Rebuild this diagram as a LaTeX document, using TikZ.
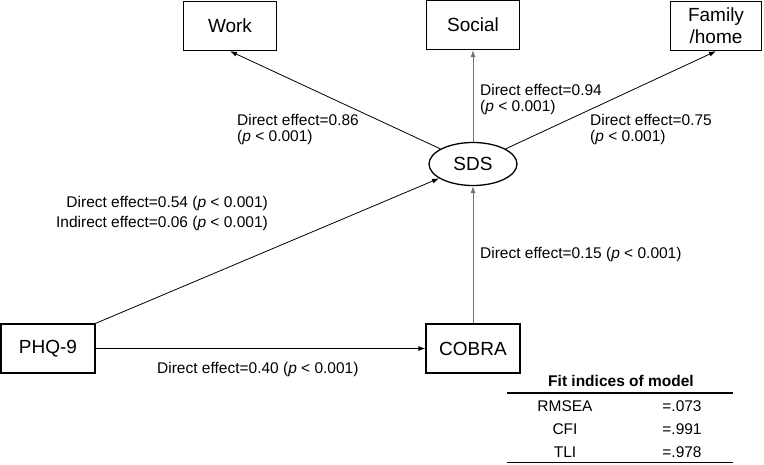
\documentclass[tikz,border=0pt]{standalone}
\usepackage{fontspec}
\setmainfont{Liberation Sans}
\usetikzlibrary{shapes.geometric, arrows.meta, positioning, calc}

\tikzset{
  box/.style={rectangle, draw, line width=1.3pt, minimum width=93pt, minimum height=49pt, font=\fontsize{19}{21}\selectfont, align=center},
  lbl/.style={inner sep=0pt, font=\fontsize{15.5}{16}\selectfont},
  edge/.style={-{Latex[length=7pt,width=5pt]}, line width=0.8pt},
  greyedge/.style={edge, draw=black!55}
}

\begin{document}
\begin{tikzpicture}[x=1pt, y=-1pt]
    \useasboundingbox (0,0) rectangle (764,464);

    % Outcome boxes
    \node[box] (work) at (230,26) {Work};
    \node[box] (social) at (473,25) {Social};
    \node[box, minimum width=91pt, font=\fontsize{19}{22}\selectfont] (family) at (716,26) {Family\\/home};

    % SDS ellipse
    \node[ellipse, draw, line width=1.3pt, minimum width=88pt, minimum height=43pt, font=\fontsize{19}{21}\selectfont] (sds) at (473,164) {SDS};

    % Predictors
    \node[box, minimum width=94pt] (phq) at (48,348.5) {PHQ-9};
    \node[box, minimum width=94pt] (cobra) at (473,348.5) {COBRA};

    % Connections
    \draw[edge] (sds) -- (work.south);
    \draw[greyedge] (sds) -- (social.south);
    \draw[edge] (sds) -- (family.south);
    \draw[edge] (phq.north east) -- (sds);
    \draw[greyedge] (cobra) -- (sds);
    \draw[edge] (phq) -- (cobra);

    % Path labels
    \node[lbl, anchor=west, align=left] (l86) at (237,129) {Direct effect=0.86\\(\textit{p} < 0.001)};
    \node[lbl, anchor=west, align=left] (l94) at (480,99) {Direct effect=0.94\\(\textit{p} < 0.001)};
    \node[lbl, anchor=west, align=left] (l75) at (590,129) {Direct effect=0.75\\(\textit{p} < 0.001)};
    \node[lbl, anchor=east, align=right, font=\fontsize{15.5}{20}\selectfont] (l54) at (268,213) {Direct effect=0.54 (\textit{p} < 0.001)\\Indirect effect=0.06 (\textit{p} < 0.001)};
    \node[lbl, anchor=west] (l15) at (480,254) {Direct effect=0.15 (\textit{p} < 0.001)};
    \node[lbl, anchor=west] (l40) at (157,369) {Direct effect=0.40 (\textit{p} < 0.001)};

    % Fit indices table
    \node[lbl, font=\fontsize{15.5}{16}\selectfont\bfseries] (fit) at (621,381) {Fit indices of model};
    \draw[line width=1.8pt] (507,393) -- (733,393);
    \node[lbl] (rmsea) at (565,406) {RMSEA};
    \node[lbl] (rmseav) at (682,406) {=.073};
    \node[lbl] (cfi) at (565,429) {CFI};
    \node[lbl] (cfiv) at (682,429) {=.991};
    \node[lbl] (tli) at (565,452) {TLI};
    \node[lbl] (tliv) at (682,452) {=.978};
    \draw[line width=1.8pt] (507,462.5) -- (733,462.5);
\end{tikzpicture}
\end{document}
